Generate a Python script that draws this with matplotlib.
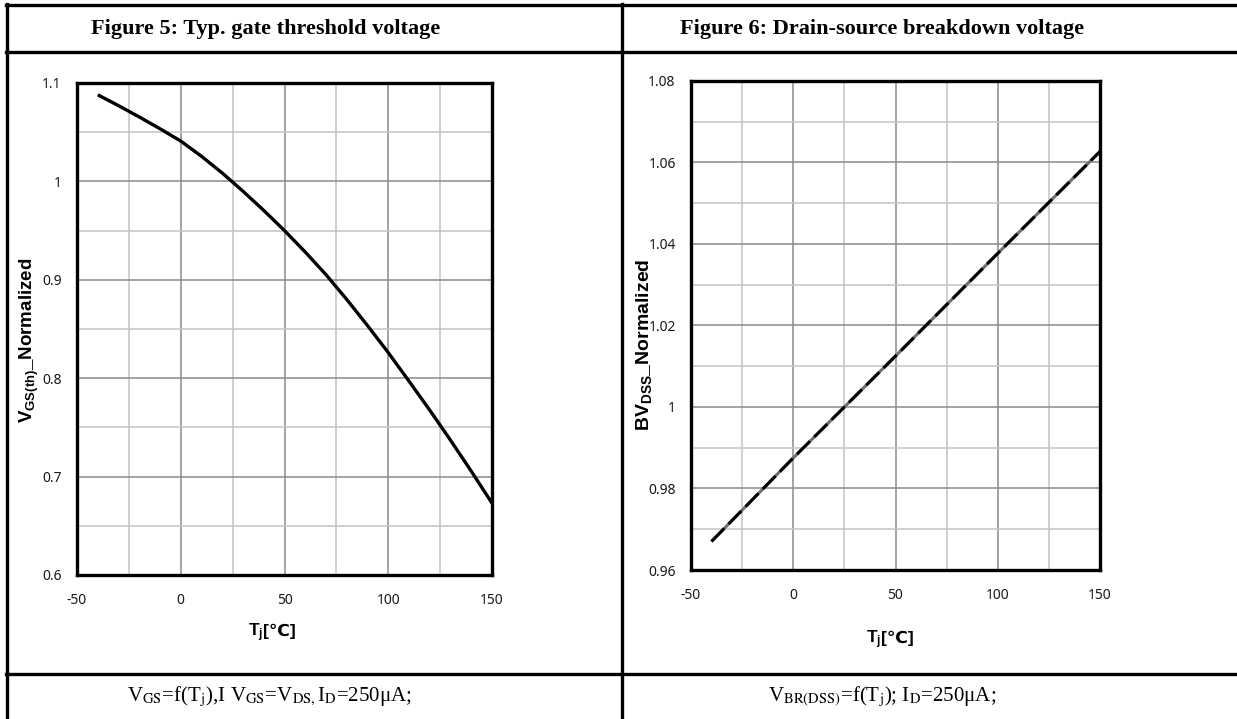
import numpy as np
import matplotlib
matplotlib.use("Agg")
import matplotlib.pyplot as plt
from matplotlib.lines import Line2D
from matplotlib.ticker import MultipleLocator

plt.rcParams['font.family'] = ['Noto Sans', 'DejaVu Sans']
plt.rcParams['axes.unicode_minus'] = False
plt.rcParams['mathtext.fontset'] = 'custom'
plt.rcParams['mathtext.rm'] = 'Liberation Sans:bold'
plt.rcParams['mathtext.bf'] = 'Liberation Sans:bold'
plt.rcParams['mathtext.it'] = 'Liberation Sans:bold'

# Figure 5: gate threshold voltage vs junction temperature
tj_vth = [-40, -30, -20, -10, 0, 10, 20, 30, 40, 50, 60, 70, 80, 90,
          100, 110, 120, 130, 140, 150]
vth_norm = [1.088, 1.077, 1.0655, 1.0535, 1.041, 1.0255, 1.0085, 0.990,
            0.9705, 0.950, 0.9282, 0.9052, 0.880, 0.8535, 0.826, 0.797,
            0.7675, 0.737, 0.7055, 0.673]

# Figure 6: breakdown voltage vs junction temperature
tj_bv = [-40, 0, 25, 50, 100, 150]
bv_norm = [0.967, 0.9875, 1.0, 1.0125, 1.0377, 1.0627]

x_ticks = [-50, 0, 50, 100, 150]

W, H = 1237, 719
fig = plt.figure(figsize=(W / 100, H / 100), dpi=100)


def px_rect(x0, y0, x1, y1):
    return [x0 / W, 1 - y1 / H, (x1 - x0) / W, (y1 - y0) / H]


def hline(y, x0, x1):
    fig.add_artist(Line2D([x0 / W, x1 / W], [1 - y / H, 1 - y / H],
                          color='black', lw=2.4, transform=fig.transFigure))


def vline(x, y0, y1):
    fig.add_artist(Line2D([x / W, x / W], [1 - y0 / H, 1 - y1 / H],
                          color='black', lw=2.4, transform=fig.transFigure))


# table borders
hline(5, 6, W)
hline(52, 6, W)
hline(674, 6, W)
vline(7, 4, H)
vline(622, 4, H)


def style_axes(ax, ymin, ymax, ymaj, ymin_step):
    ax.set_xlim(-50, 150)
    ax.set_ylim(ymin, ymax)
    ax.xaxis.set_major_locator(MultipleLocator(50))
    ax.xaxis.set_minor_locator(MultipleLocator(25))
    ax.yaxis.set_major_locator(MultipleLocator(ymaj))
    ax.yaxis.set_minor_locator(MultipleLocator(ymin_step))
    ax.grid(which='major', color='#8a8a8a', lw=1.1)
    ax.grid(which='minor', color='#c4c4c4', lw=1.1)
    ax.set_axisbelow(True)
    for s in ax.spines.values():
        s.set_linewidth(2.4)
        s.set_color('black')
        s.set_zorder(5)
    ax.tick_params(which='both', length=0, labelsize=10, colors='#1a1a1a')
    ax.tick_params(axis='x', pad=13)
    ax.tick_params(axis='y', pad=11)


ax1 = fig.add_axes(px_rect(77, 83, 492, 575))
style_axes(ax1, 0.6, 1.1, 0.1, 0.05)
ax1.set_xticks(x_ticks)
ax1.set_yticks([0.6, 0.7, 0.8, 0.9, 1.0, 1.1])
ax1.set_yticklabels(['0.6', '0.7', '0.8', '0.9', '1', '1.1'])
ax1.plot(tj_vth, vth_norm, color='black', lw=2.4, solid_capstyle='butt')

ax2 = fig.add_axes(px_rect(691, 81, 1100, 570))
style_axes(ax2, 0.96, 1.08, 0.02, 0.01)
ax2.set_xticks(x_ticks)
ax2.set_yticks([0.96, 0.98, 1.0, 1.02, 1.04, 1.06, 1.08])
ax2.set_yticklabels(['0.96', '0.98', '1', '1.02', '1.04', '1.06', '1.08'])
ax2.plot(tj_bv, bv_norm, color='#6e6e6e', lw=2.2, solid_capstyle='butt')
ax2.plot(tj_bv, bv_norm, color='black', lw=2.2, dashes=(6, 2))

# titles
fig.text(266 / W, 1 - 29 / H, 'Figure 5: Typ. gate threshold voltage',
         family='Liberation Serif', weight='bold', fontsize=16,
         ha='center', va='center')
fig.text(882 / W, 1 - 29 / H, 'Figure 6: Drain-source breakdown voltage',
         family='Liberation Serif', weight='bold', fontsize=16,
         ha='center', va='center')

# axis labels: "T_j" in mathtext, "[℃]" as plain text so the glyph falls back
sans_bold = ['Liberation Sans', 'DejaVu Sans']
for x, y in [(263, 636), (881, 643)]:
    fig.text(x / W, 1 - y / H, r'$\mathbf{T_j}$', fontsize=12.5,
             ha='right', va='baseline')
    fig.text(x / W, 1 - y / H, '[\u2103]', family=sans_bold, weight='bold',
             fontsize=12.5, ha='left', va='baseline')
fig.text(29 / W, 1 - 340 / H, r'$\mathbf{V_{GS(th)}\_Normalized}$',
         fontsize=13.5, rotation=90, ha='center', va='center')
fig.text(644 / W, 1 - 345 / H, r'$\mathbf{BV_{DSS}\_Normalized}$',
         fontsize=14, rotation=90, ha='center', va='center')

# captions
fig.text(269 / W, 1 - 697 / H,
         r'V$_{\mathrm{GS}}$=f(T$_{\mathrm{j}}$),I V$_{\mathrm{GS}}$=V$_{\mathrm{DS,}}$'
         r'I$_{\mathrm{D}}$=250' + '\u03bcA;',
         family='Liberation Serif', fontsize=15, math_fontfamily='stix',
         ha='center', va='center')
fig.text(882 / W, 1 - 697 / H,
         r'V$_{\mathrm{BR(DSS)}}$=f(T$_{\mathrm{j}}$); I$_{\mathrm{D}}$=250' + '\u03bcA;',
         family='Liberation Serif', fontsize=15, math_fontfamily='stix',
         ha='center', va='center')

fig.savefig('out.png', dpi=100)
